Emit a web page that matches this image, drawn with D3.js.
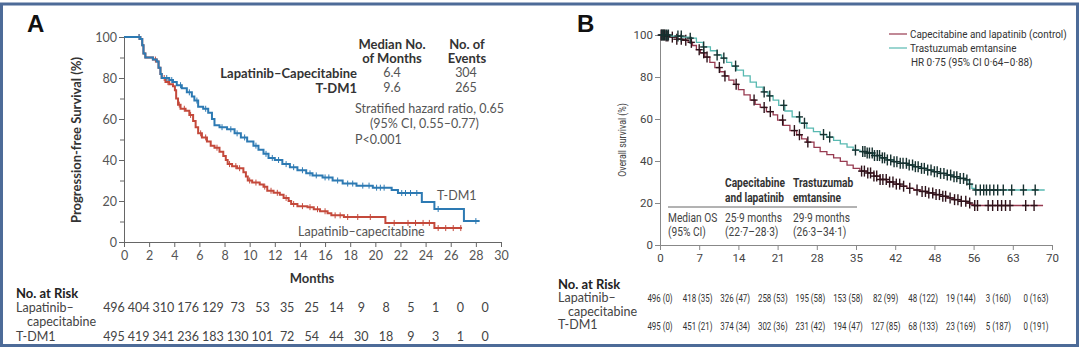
<!DOCTYPE html>
<html>
<head>
<meta charset="utf-8">
<title>PFS and OS</title>
<style>
  body { margin: 0; background: #fff; }
  text { font-family: Lato, "Open Sans", sans-serif; }
  .narrow { font-family: Roboto, "Liberation Sans", sans-serif; }
  .axis path, .axis line { stroke: #666; }
  .axisB path, .axisB line { stroke: #888; }
</style>
</head>
<body>
<div id="chart"></div>
<script src="https://cdn.jsdelivr.net/npm/d3@7"></script>
<script>
// ---------- panel A : progression-free survival ----------
var monthsA = d3.range(0, 31, 2);
var riskLapA = [496, 404, 310, 176, 129, 73, 53, 35, 25, 14, 9, 8, 5, 1, 0, 0];
var riskTdmA = [495, 419, 341, 236, 183, 130, 101, 72, 54, 44, 30, 18, 9, 3, 1, 0];

// [month, % free of progression]
var pfsLap = [[0,100],[1.3,99],[1.45,96],[1.55,92],[1.7,90],[2.3,89],[2.6,88],[2.75,85],[2.9,82],[3.0,80],
  [3.3,78],[3.6,77],[3.9,76],[4.05,74],[4.15,70],[4.3,67],[4.5,65],[4.9,64],[5.2,62],[5.5,59],[5.7,56],
  [5.9,53],[6.2,51],[6.6,49],[6.9,47],[7.2,46],[7.6,44],[7.9,42],[8.1,40],[8.25,38],[8.6,37],[9.0,36],
  [9.5,34],[9.7,32],[9.85,30],[10.2,29],[10.8,28],[11.1,27],[11.4,25],[11.9,24],[12.4,23],[12.7,21.5],
  [13.1,20],[13.3,18.5],[13.8,17.5],[14.6,17],[15.1,16],[15.6,15],[16.2,14],[16.5,13],[17.5,12.2],
  [20.8,9.3],[24.7,6.8],[26.9,6.8]];
var pfsTdm = [[0,100],[1.3,99],[1.45,96],[1.55,92],[1.7,90],[2.3,89],[2.6,88],[2.75,85],[2.9,82],[3.0,80],
  [3.6,79],[3.9,78],[4.2,76.5],[4.6,75],[5.0,73],[5.4,71],[5.6,69],[5.9,66],[6.3,65],[6.7,63],[7.0,60],
  [7.2,57],[7.6,56],[8.2,55],[8.8,53],[9.3,51],[9.8,49],[10.3,47],[10.7,45],[11.1,43],[11.5,41],[12.0,40],
  [12.6,38],[13.2,36.5],[13.8,35],[14.5,33.5],[15.0,32.5],[15.8,31.5],[16.6,30],[17.4,28.5],[18.5,27.5],
  [19.8,26.5],[21.3,25.4],[21.8,23.9],[23.7,19.5],[24.7,16.1],[27.05,10.2],[28.3,10.2]];
var censLapA = [1.2,2.5,3.2,3.5,4.4,4.8,5.3,6.1,6.5,7.4,8.4,8.9,9.2,10.0,10.5,11.2,11.7,12.2,12.9,13.5,
  14.2,14.8,15.4,16.0,16.8,17.2,17.8,18.6,19.6,21.5,22.6,23.2,23.8,24.3,25.0,25.6,26.2,26.8];
var censTdmA = [1.2,3.4,3.8,4.5,5.2,5.8,6.5,7.8,8.5,9.0,9.6,10.5,11.3,11.8,12.3,12.9,13.5,14.2,14.8,15.3,
  16.0,16.3,17.0,17.8,18.2,19.0,19.5,20.1,20.4,20.7,22.1,22.4,22.8,23.3,25.0,28.0];

// ---------- panel B : overall survival ----------
var monthsB = [0, 7, 14, 21, 28, 35, 42, 49, 56, 63, 70];
var tickLabelsB = ["0", "7", "14", "21", "28", "35", "42", "48", "56", "63", "70"];
var riskLapB = ["496 (0)", "418 (35)", "326 (47)", "258 (53)", "195 (58)", "153 (58)", "82 (99)", "48 (122)", "19 (144)", "3 (160)", "0 (163)"];
var riskTdmB = ["495 (0)", "451 (21)", "374 (34)", "302 (36)", "231 (42)", "194 (47)", "127 (85)", "68 (133)", "23 (169)", "5 (187)", "0 (191)"];

var osLap = [[0,100],[1,99.5],[2,99],[3,98],[4,97.5],[5,96.5],[5.8,95],[6.5,93],[7.2,91.5],[8,89.5],
  [8.9,87],[9.8,84.5],[10.7,82.5],[11.5,80.5],[12.3,78.5],[13.2,76.5],[14,74],[15,71.5],[16.1,69],[17,67],
  [17.9,65.5],[19,63.5],[20.2,62],[21,59.5],[22,57],[23.2,54.5],[24.4,52.5],[25.3,50.5],[26.2,49],
  [27.5,46.5],[28.6,44.5],[29.8,43],[31,41.5],[32.2,39.8],[33.4,38],[34.5,36.5],[35.7,35.2],[37,34.3],
  [38.2,32.8],[39.3,31.2],[40.5,30],[41.7,29],[42.9,28],[44.1,27],[45.3,26.2],[46.5,25.5],[47.7,24.8],
  [48.9,24],[50,23.2],[51.2,22.4],[52.4,21.6],[53.6,20.8],[54.8,20],[55.5,19.3],[56,18.8],[68.4,18.8]];
var osTdm = [[0,100],[2,99.5],[4,99],[5.4,98.5],[6.5,96.5],[7.7,94.3],[9,92.5],[10.2,90.5],[11,89],
  [11.9,87],[12.8,85.2],[13.7,83.3],[14.9,80.5],[16.1,77.6],[17.2,75.2],[18.4,72.9],[19.3,71],[20.2,69],
  [21.2,66.5],[22.3,63.8],[23.6,61],[25,58],[26.2,55.7],[27.4,54],[28.6,52.6],[29.8,51.4],[31,49.8],
  [32.2,48.2],[33.4,46.6],[34.5,45.2],[35.7,44.5],[37,43.8],[38.2,42.6],[39.3,41.5],[40.5,40.5],[41.7,39.7],
  [42.9,38.9],[44.1,38.1],[45.3,37.3],[46.5,36.5],[47.7,35.7],[48.9,34.9],[50,34.1],[51.2,33.3],[52.4,32.5],
  [53.6,31.7],[54.5,31],[55.2,29],[55.7,27],[56.2,26.2],[68.7,26.2]];
var censLapB = [0.2,0.5,0.8,1.1,1.4,2.2,3.0,3.8,4.6,5.6,7.0,7.8,8.4,10.6,11.6,13.6,16.8,18.6,19.7,21.9,24.0,
  24.9,26.4,36.0,36.5,37.1,37.6,38.2,38.7,39.3,39.8,40.4,41.0,41.6,42.2,42.8,43.5,44.6,45.9,46.8,47.4,48.0,
  48.7,49.3,49.9,50.5,51.0,51.8,52.6,53.2,53.8,54.6,55.3,56.2,56.7,58.6,59.4,60.3,61.0,61.7,62.5,65.3,66.8];
var censTdmB = [0.3,0.6,0.9,1.2,1.5,3.2,3.8,5.4,7.8,10.2,11.4,13.5,18.6,19.6,22.1,24.9,25.8,29.2,30.3,34.9,
  36.2,36.6,37.0,37.4,37.9,38.3,38.8,39.2,39.7,40.1,40.6,41.2,41.8,42.3,42.9,43.4,44.0,44.5,45.1,45.6,46.1,
  46.7,47.2,47.8,48.4,49.0,49.5,50.1,50.7,51.3,51.9,52.5,53.0,53.6,54.2,54.8,55.3,56.4,57.2,57.8,58.3,58.9,
  59.6,60.3,61.3,62.8,64.9,67.0];

var redA = "#c4493b", blueA = "#2d7ab3";
var redB = "#973a50", tealB = "#58b9b1";

var svg = d3.select("#chart").append("svg")
  .attr("width", 1080).attr("height", 348);

svg.append("rect").attr("x", 1.5).attr("y", 4).attr("width", 1076).attr("height", 341.5)
  .attr("fill", "#fff").attr("stroke", "#4d6b98").attr("stroke-width", 3);

function survAt(steps, t) {
  var v = steps[0][1];
  steps.forEach(function(p) { if (p[0] <= t) v = p[1]; });
  return v;
}

function txt(g, x, y, s, opts) {
  opts = opts || {};
  return g.append("text")
    .attr("x", x).attr("y", y).attr("dy", "0.35em")
    .attr("text-anchor", opts.anchor || "start")
    .attr("font-size", opts.size || 12.5)
    .attr("font-weight", opts.bold ? 700 : 400)
    .attr("fill", opts.fill || "#555")
    .text(s);
}

// condensed text: squeeze horizontally around the anchor point
function ntxt(g, x, y, s, opts) {
  opts = opts || {};
  var w = g.append("g").attr("transform", "translate(" + x + "," + y + ") scale(" + (opts.sx || 0.85) + ",1)");
  return w.append("text")
    .attr("class", "narrow").attr("dy", "0.35em")
    .attr("text-anchor", opts.anchor || "start")
    .attr("font-size", opts.size || 12)
    .attr("font-weight", opts.bold ? 700 : 400)
    .attr("fill", opts.fill || "#444")
    .text(s);
}

// ================= A =================
var gA = svg.append("g");
var xA = d3.scaleLinear().domain([0, 30]).range([124, 501]);
var yA = d3.scaleLinear().domain([0, 100]).range([242, 37]);
var xRiskA = d3.scaleLinear().domain([0, 30]).range([114, 485]);

txt(gA, 27, 24, "A", {size: 24, bold: true, fill: "#111"}).style("font-family", "Arial, 'Liberation Sans', sans-serif");

gA.append("g").attr("class", "axis").attr("transform", "translate(124,0)")
  .call(d3.axisLeft(yA).tickValues([10, 30, 50, 70, 90]).tickFormat("").tickSize(4).tickSizeOuter(0));
gA.append("g").attr("class", "axis").attr("transform", "translate(124,0)")
  .call(d3.axisLeft(yA).tickValues([0, 20, 40, 60, 80, 100]).tickSize(5).tickSizeOuter(0).tickPadding(2))
  .selectAll("text").attr("font-size", 12.5).attr("fill", "#555").style("font-family", "Lato, sans-serif");
gA.append("g").attr("class", "axis").attr("transform", "translate(0,242)")
  .call(d3.axisBottom(xA).tickValues(monthsA).tickSize(5).tickSizeOuter(0).tickPadding(4))
  .selectAll("text").attr("font-size", 12.5).attr("fill", "#555").style("font-family", "Lato, sans-serif");

gA.append("text").attr("transform", "translate(76,140) rotate(-90)")
  .attr("text-anchor", "middle").attr("dy", "0.35em")
  .attr("font-size", 13).attr("font-weight", 700).attr("fill", "#333")
  .text("Progression-free Survival (%)");
txt(gA, 312, 278, "Months", {anchor: "middle", size: 13, bold: true, fill: "#333"});

var lineA = d3.line().curve(d3.curveStepAfter)
  .x(function(d) { return xA(d[0]); }).y(function(d) { return yA(d[1]); });

[[pfsLap, censLapA, redA], [pfsTdm, censTdmA, blueA]].forEach(function(s) {
  gA.append("path").datum(s[0]).attr("fill", "none").attr("stroke", s[2])
    .attr("stroke-width", 2).attr("d", lineA);
  gA.append("g").selectAll("line").data(s[1]).enter().append("line")
    .attr("x1", function(d) { return xA(d); }).attr("x2", function(d) { return xA(d); })
    .attr("y1", function(d) { return yA(survAt(s[0], d)) - 3; })
    .attr("y2", function(d) { return yA(survAt(s[0], d)) + 3; })
    .attr("stroke", s[2]).attr("stroke-width", 1);
});

txt(gA, 437, 196, "T-DM1", {size: 12.5});
txt(gA, 298, 232, "Lapatinib–capecitabine", {size: 12.5});

// summary table
txt(gA, 392, 44, "Median No.", {anchor: "middle", size: 13, bold: true, fill: "#333"});
txt(gA, 392, 58, "of Months", {anchor: "middle", size: 13, bold: true, fill: "#333"});
txt(gA, 467, 44, "No. of", {anchor: "middle", size: 13, bold: true, fill: "#333"});
txt(gA, 467, 58, "Events", {anchor: "middle", size: 13, bold: true, fill: "#333"});
txt(gA, 357, 73, "Lapatinib–Capecitabine", {anchor: "end", size: 13, bold: true, fill: "#333"});
txt(gA, 357, 88, "T-DM1", {anchor: "end", size: 13, bold: true, fill: "#333"});
txt(gA, 392, 73, "6.4", {anchor: "middle"});
txt(gA, 466, 73, "304", {anchor: "middle"});
txt(gA, 392, 88, "9.6", {anchor: "middle"});
txt(gA, 466, 88, "265", {anchor: "middle"});
txt(gA, 355, 109, "Stratified hazard ratio, 0.65");
txt(gA, 370, 124, "(95% CI, 0.55–0.77)");
txt(gA, 355, 140, "P<0.001");

// number at risk
txt(gA, 16, 293, "No. at Risk", {size: 13, bold: true, fill: "#222"});
txt(gA, 16, 308, "Lapatinib–", {fill: "#444"});
txt(gA, 27, 322, "capecitabine", {fill: "#444"});
txt(gA, 16, 337, "T-DM1", {fill: "#444"});
gA.append("g").selectAll("text").data(riskLapA).enter().append("text")
  .attr("x", function(d, i) { return xRiskA(monthsA[i]); }).attr("y", 308).attr("dy", "0.35em")
  .attr("text-anchor", "middle").attr("font-size", 12.5).attr("fill", "#444").text(function(d) { return d; });
gA.append("g").selectAll("text").data(riskTdmA).enter().append("text")
  .attr("x", function(d, i) { return xRiskA(monthsA[i]); }).attr("y", 337).attr("dy", "0.35em")
  .attr("text-anchor", "middle").attr("font-size", 12.5).attr("fill", "#444").text(function(d) { return d; });

// ================= B =================
var gB = svg.append("g");
var xB = d3.scaleLinear().domain([0, 70]).range([660, 1052]);
var yB = d3.scaleLinear().domain([0, 100]).range([245, 35]);
var xRiskB = d3.scaleLinear().domain([0, 70]).range([660, 1036]);

txt(gB, 577, 24, "B", {size: 24, bold: true, fill: "#111"}).style("font-family", "Arial, 'Liberation Sans', sans-serif");

gB.append("g").attr("class", "axisB").attr("transform", "translate(660,0)")
  .call(d3.axisLeft(yB).tickValues([0, 20, 40, 60, 80, 100]).tickSize(5).tickSizeOuter(0).tickPadding(2))
  .selectAll("text").attr("class", "narrow").attr("font-size", 11.5).attr("fill", "#444");
gB.append("g").attr("class", "axisB").attr("transform", "translate(0,245)")
  .call(d3.axisBottom(xB).tickValues(monthsB).tickSize(5).tickSizeOuter(0).tickPadding(4)
    .tickFormat(function(d, i) { return tickLabelsB[i]; }))
  .selectAll("text").attr("class", "narrow").attr("font-size", 11.5).attr("fill", "#444");

var yLab = gB.append("g").attr("transform", "translate(622,140) rotate(-90) scale(0.88,1)");
yLab.append("text").attr("class", "narrow")
  .attr("text-anchor", "middle").attr("dy", "0.35em")
  .attr("font-size", 10).attr("fill", "#444").text("Overall survival (%)");

var lineB = d3.line().curve(d3.curveStepAfter)
  .x(function(d) { return xB(d[0]); }).y(function(d) { return yB(d[1]); });

[[osLap, censLapB, redB, "#2e121a"], [osTdm, censTdmB, tealB, "#16302f"]].forEach(function(s) {
  gB.append("path").datum(s[0]).attr("fill", "none").attr("stroke", s[2])
    .attr("stroke-width", 1.3).attr("d", lineB);
  var m = gB.append("g").attr("stroke", s[3]).attr("stroke-width", 1.4);
  s[1].forEach(function(t) {
    var cx = xB(t), cy = yB(survAt(s[0], t));
    m.append("line").attr("x1", cx).attr("x2", cx).attr("y1", cy - 5.5).attr("y2", cy + 5.5);
    m.append("line").attr("x1", cx - 3.5).attr("x2", cx + 3.5).attr("y1", cy).attr("y2", cy);
  });
});

// legend
[[redB, "Capecitabine and lapatinib (control)", 34], [tealB, "Trastuzumab emtansine", 48]].forEach(function(l) {
  gB.append("line").attr("x1", 889).attr("x2", 907).attr("y1", l[2]).attr("y2", l[2])
    .attr("stroke", l[0]).attr("stroke-width", 1.2);
  ntxt(gB, 910, l[2], l[1], {size: 11, fill: "#333", sx: 0.9});
});
ntxt(gB, 911, 62, "HR 0·75 (95% CI 0·64–0·88)", {size: 11, fill: "#333", sx: 0.9});

// median OS table
ntxt(gB, 725, 183, "Capecitabine", {bold: true, fill: "#333"});
ntxt(gB, 725, 198, "and lapatinib", {bold: true, fill: "#333"});
ntxt(gB, 793, 183, "Trastuzumab", {bold: true, fill: "#333"});
ntxt(gB, 793, 198, "emtansine", {bold: true, fill: "#333"});
gB.append("line").attr("x1", 668).attr("x2", 857).attr("y1", 207).attr("y2", 207)
  .attr("stroke", "#666").attr("stroke-width", 1);
ntxt(gB, 668, 218, "Median OS");
ntxt(gB, 668, 232, "(95% CI)");
ntxt(gB, 725, 218, "25·9 months");
ntxt(gB, 725, 232, "(22·7–28·3)");
ntxt(gB, 793, 218, "29·9 months");
ntxt(gB, 793, 232, "(26·3–34·1)");

// number at risk
txt(gB, 558, 284, "No. at Risk", {size: 13, bold: true, fill: "#222"});
txt(gB, 558, 298, "Lapatinib–", {fill: "#444"});
txt(gB, 568, 312, "capecitabine", {fill: "#444"});
txt(gB, 558, 325, "T-DM1", {fill: "#444"});
riskLapB.forEach(function(d, i) {
  ntxt(gB, xRiskB(monthsB[i]), 298, d, {anchor: "middle", size: 11, fill: "#333", sx: 0.72});
});
riskTdmB.forEach(function(d, i) {
  ntxt(gB, xRiskB(monthsB[i]), 326, d, {anchor: "middle", size: 11, fill: "#333", sx: 0.72});
});
</script>
</body>
</html>
